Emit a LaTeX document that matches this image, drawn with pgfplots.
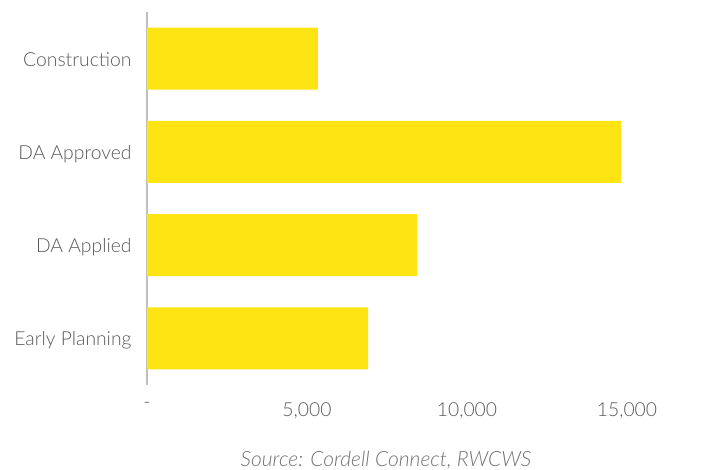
\documentclass[border=0pt]{standalone}
\usepackage{pgfplots}
\pgfplotsset{compat=1.18}
\usepackage{fontspec}
\setmainfont{Lato}[UprightFont={* Light}, ItalicFont={* Light Italic}]
\definecolor{baryellow}{HTML}{FFE414}
\definecolor{labelgray}{HTML}{595959}
\definecolor{axisgray}{HTML}{BFBFBF}
\begin{document}
\begin{tikzpicture}
\useasboundingbox (-147pt,-85pt) rectangle (570pt,385pt);
\begin{axis}[
  at={(0,0)}, anchor=south west,
  scale only axis,
  width=480pt, height=373pt,
  xbar, bar width=62pt,
  xmin=0, xmax=15000, ymin=-0.5, ymax=3.5,
  axis y line=left, axis x line=bottom,
  x axis line style={draw=none,-},
  y axis line style={-,draw=axisgray,line width=1.5pt},
  major tick length=0pt,
  scaled x ticks=false,
  xtick={0,5000,10000,15000},
  xticklabels={-,{5,000},{10,000},{15,000}},
  ytick={0,1,2,3},
  yticklabels={Early Planning,DA Applied,DA Approved,Construction},
  ticklabel style={font=\fontsize{19.3}{23}\selectfont, text=labelgray},
  xticklabel style={yshift=-14pt},
  yticklabel style={xshift=-12pt, yshift=-4pt, text height=0.72em, text depth=0pt},
  /pgf/number format/assume math mode=true,
]
\addplot[draw=none, fill=baryellow] coordinates {(6910,0) (8440,1) (14810,2) (5340,3)};
\end{axis}
\node[font=\fontsize{21}{25}\selectfont\itshape, text=labelgray!85] at (239pt,-75pt) {Source: Cordell Connect, RWCWS};
\end{tikzpicture}
\end{document}
